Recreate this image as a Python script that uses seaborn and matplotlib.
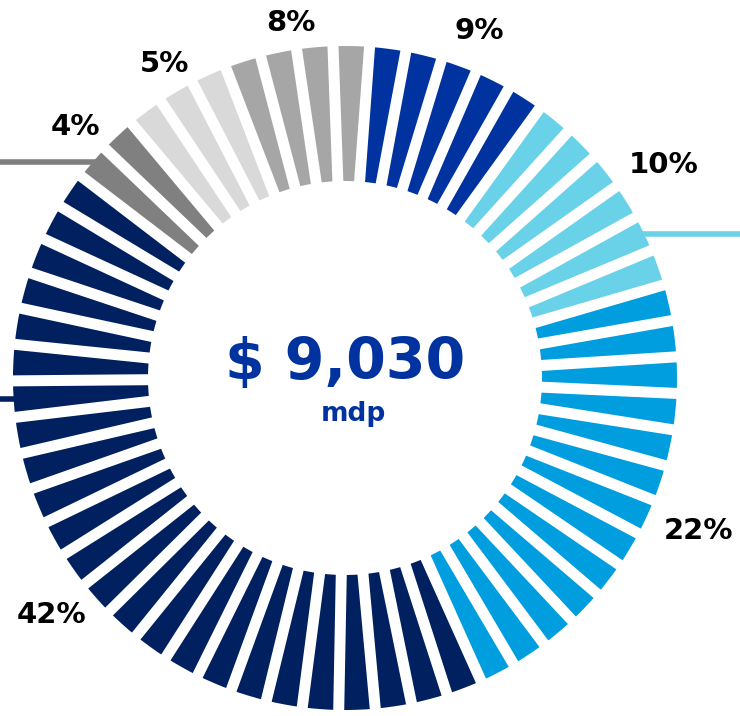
import matplotlib
matplotlib.use("Agg")
import matplotlib.pyplot as plt
import seaborn as sns
import numpy as np

# ---- data ----
percent_labels = ["9%", "10%", "22%", "42%", "4%", "5%", "8%"]
segment_counts = [5, 6, 13, 24, 2, 3, 4]
series_colors = ["#0033A0", "#69D1E8", "#009EDF", "#00205F", "#808080", "#D9D9D9", "#A6A6A6"]
total_text = "$ 9,030"
unit_text = "mdp"

# ---- layout (pixels, origin top-left) ----
W, H = 740, 716
CX, CY = 345, 378
R_OUT, R_IN = 332, 197
GAP_PX = 11
FIRST_CENTER_DEG = 7.4          # clockwise from 12 o'clock, centre of first segment
label_pos = [(479, 31), (664, 165), (699, 531), (51, 615), (75, 127), (164, 64), (291, 23)]
# leader lines: (category index, segment within category, direction)
leaders = [(1, 4, "right"), (3, 17, "left"), (4, 0, "left")]

sns.set_theme(style="white")
plt.rcParams["font.family"] = ["DejaVu Sans"]

fig = plt.figure(figsize=(W / 100, H / 100), dpi=100)
ax = fig.add_axes([0, 0, 1, 1])

n_total = sum(segment_counts)
pitch = 360.0 / n_total
seg_colors = []
for c, n in zip(series_colors, segment_counts):
    seg_colors += [c] * n

px_to_pt = 72 / 100
start = 90 - (FIRST_CENTER_DEG - pitch / 2)
wedges, _ = ax.pie(np.ones(n_total), colors=seg_colors, startangle=start, counterclock=False,
                   radius=R_OUT, center=(CX, H - CY),
                   wedgeprops=dict(width=R_OUT - R_IN, linewidth=0, antialiased=True))

# white separators of constant width between segments
for i in range(n_total):
    th = np.deg2rad(FIRST_CENTER_DEG - pitch / 2 + pitch * i)
    r0, r1 = R_IN - 4, R_OUT + 4
    ax.plot([CX + r0 * np.sin(th), CX + r1 * np.sin(th)],
            [(H - CY) + r0 * np.cos(th), (H - CY) + r1 * np.cos(th)],
            color="white", lw=GAP_PX * px_to_pt, solid_capstyle="butt", zorder=3)

# leader lines
offsets = np.cumsum([0] + segment_counts[:-1])
for cat, k, d in leaders:
    idx = offsets[cat] + k
    theta = np.deg2rad(FIRST_CENTER_DEG + pitch * idx)
    x0 = CX + R_OUT * np.sin(theta)
    y0 = (H - CY) + R_OUT * np.cos(theta)
    x1 = W if d == "right" else 0
    ax.plot([x0 - (4 if d == "right" else -4), x1], [y0, y0], color=series_colors[cat],
            lw=4.0, solid_capstyle="butt", zorder=4)

# percentage labels
for lab, (x, y) in zip(percent_labels, label_pos):
    ax.text(x, H - y, lab, ha="center", va="center", fontsize=21,
            fontweight="bold", color="black")

# centre text
ax.text(CX, H - 363, total_text, ha="center", va="center", fontsize=41,
        fontweight="bold", color="#0033A0")
ax.text(353, H - 414, unit_text, ha="center", va="center", fontsize=19,
        fontweight="bold", color="#0033A0")

ax.set_xlim(0, W)
ax.set_ylim(0, H)
ax.set_aspect("equal")
ax.axis("off")
fig.savefig("out.png", dpi=100, facecolor="white")
